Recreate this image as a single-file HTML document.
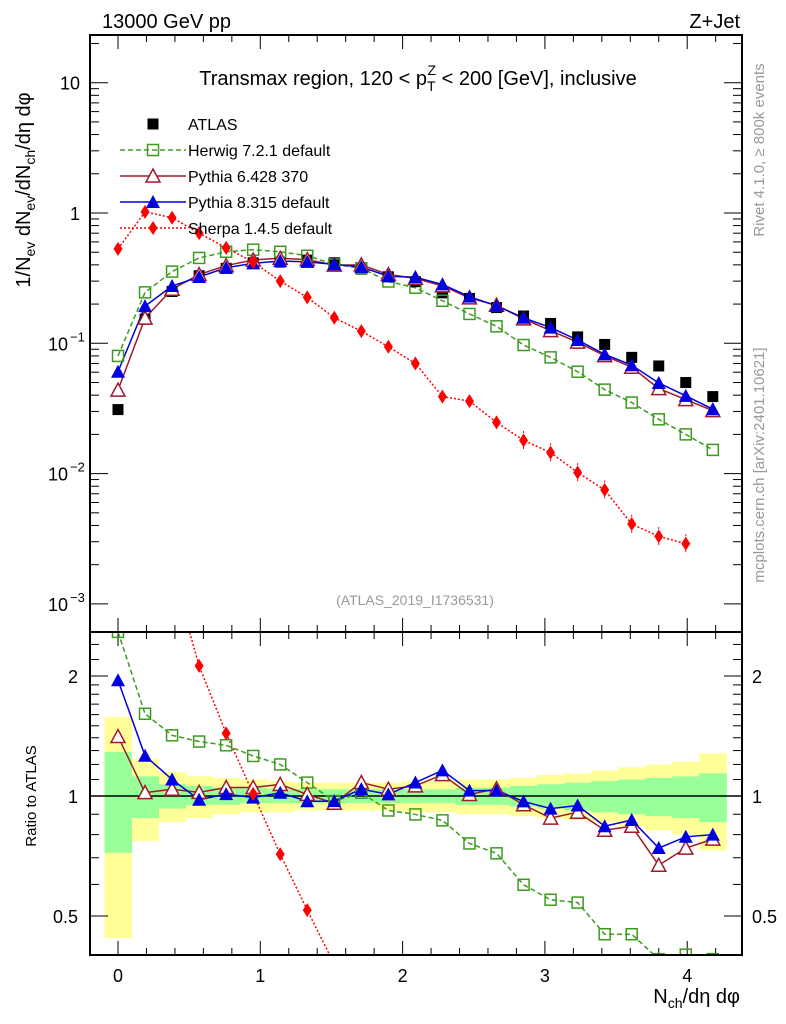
<!DOCTYPE html>
<html><head><meta charset="utf-8"><style>
html,body{margin:0;padding:0;background:#fff;width:786px;height:1024px;overflow:hidden;}
svg{display:block;font-family:"Liberation Sans",sans-serif;overflow:hidden;}
</style></head><body>
<svg id="chart" width="786" height="1024" viewBox="0 0 786 1024" xmlns="http://www.w3.org/2000/svg">
<defs>
<clipPath id="clipMain"><rect x="90" y="35" width="652" height="597"/></clipPath>
<clipPath id="clipRatio"><rect x="90" y="632" width="652" height="323"/></clipPath>
</defs>
<g id="bands" clip-path="url(#clipRatio)"></g>
<g id="grid"></g>
<g id="series-main" clip-path="url(#clipMain)"></g>
<g id="series-ratio" clip-path="url(#clipRatio)"></g>
<rect x="90" y="35" width="652" height="597" fill="none" stroke="#000" stroke-width="2"/>
<rect x="90" y="632" width="652" height="323" fill="none" stroke="#000" stroke-width="2"/>
<text x="102" y="28" font-size="20">13000 GeV pp</text>
<text x="740" y="28" font-size="20" text-anchor="end">Z+Jet</text>
<text x="418" y="85" font-size="20" text-anchor="middle">Transmax region, 120 &lt; p<tspan font-size="14" dy="6">T</tspan><tspan font-size="14" dx="-8" dy="-16">Z</tspan><tspan dy="10"> &lt; 200 [GeV], inclusive</tspan></text>
<text x="415" y="605" font-size="14" fill="#999" text-anchor="middle">(ATLAS_2019_I1736531)</text>
<text transform="translate(764,150) rotate(-90)" font-size="15" fill="#999" text-anchor="middle">Rivet 4.1.0, ≥ 800k events</text>
<text transform="translate(764,465) rotate(-90)" font-size="15" fill="#999" text-anchor="middle">mcplots.cern.ch [arXiv:2401.10621]</text>
<text transform="translate(30,190) rotate(-90)" font-size="20" text-anchor="middle">1/N<tspan font-size="14" dy="5">ev</tspan><tspan dy="-5"> dN</tspan><tspan font-size="14" dy="5">ev</tspan><tspan dy="-5">/dN</tspan><tspan font-size="14" dy="5">ch</tspan><tspan dy="-5">/dη dφ</tspan></text>
<text transform="translate(36,796) rotate(-90)" font-size="15" text-anchor="middle">Ratio to ATLAS</text>
<text x="740" y="1003" font-size="20" text-anchor="end">N<tspan font-size="14" dy="5">ch</tspan><tspan dy="-5">/dη dφ</tspan></text>
<g id="legend"></g>
</svg>
<script>
const xs = [0,0.19,0.38,0.57,0.76,0.95,1.14,1.33,1.52,1.71,1.90,2.09,2.28,2.47,2.66,2.85,3.04,3.23,3.42,3.61,3.80,3.99,4.18];
const atlas = [0.031,0.153,0.25,0.33,0.376,0.415,0.42,0.435,0.415,0.37,0.324,0.297,0.244,0.221,0.188,0.162,0.142,0.112,0.098,0.078,0.067,0.050,0.039];
const herwig = [0.080,0.246,0.355,0.452,0.504,0.523,0.504,0.470,0.403,0.377,0.298,0.267,0.212,0.168,0.135,0.097,0.078,0.0605,0.0441,0.0351,0.0261,0.020,0.0152];
const pythia6 = [0.0437,0.156,0.26,0.337,0.395,0.436,0.449,0.439,0.398,0.40,0.337,0.315,0.276,0.223,0.196,0.154,0.125,0.102,0.0804,0.0655,0.0449,0.037,0.0304];
const pythia8 = [0.0605,0.193,0.275,0.323,0.380,0.411,0.428,0.422,0.403,0.385,0.327,0.321,0.283,0.228,0.194,0.157,0.132,0.106,0.0823,0.0679,0.0496,0.0395,0.0312];
const sherpa = [0.53,1.02,0.92,0.70,0.54,0.42,0.30,0.225,0.157,0.124,0.094,0.070,0.039,0.036,0.0247,0.018,0.0145,0.0102,0.0075,0.0041,0.0033,0.0029];
const yellowUp = [1.58,1.24,1.15,1.12,1.11,1.10,1.09,1.08,1.08,1.08,1.08,1.09,1.09,1.10,1.10,1.11,1.13,1.14,1.16,1.18,1.20,1.22,1.28];
const yellowDn = [0.44,0.77,0.86,0.88,0.90,0.91,0.91,0.92,0.92,0.92,0.92,0.91,0.91,0.90,0.90,0.89,0.88,0.87,0.86,0.84,0.82,0.80,0.73];
const greenUp = [1.29,1.12,1.07,1.06,1.05,1.05,1.04,1.04,1.04,1.04,1.04,1.04,1.04,1.05,1.05,1.06,1.07,1.08,1.09,1.10,1.11,1.12,1.14];
const greenDn = [0.72,0.88,0.93,0.95,0.95,0.96,0.96,0.96,0.96,0.96,0.96,0.96,0.96,0.95,0.95,0.94,0.93,0.92,0.91,0.90,0.89,0.88,0.86];
const xTicks = [0,1,2,3,4];
const mainTicks = [10,1,0.1,0.01,0.001];
const mainTickLabels = ["10","1","10^-1","10^-2","10^-3"];
const ratioTicks = [2,1,0.5];
const ratioTickLabels = ["2","1","0.5"];

const NS="http://www.w3.org/2000/svg";
const X = v => 118 + v*142.3;
const Ym = v => 213 - 130.3*Math.log10(v);
const Yr = v => 796 - 398.6*Math.log10(v);
function mk(tag, attrs, parent){const e=document.createElementNS(NS,tag);for(const k in attrs)e.setAttribute(k,attrs[k]);parent.appendChild(e);return e;}
const grid=document.getElementById('grid');
const bands=document.getElementById('bands');
const gm=document.getElementById('series-main');
const gr=document.getElementById('series-ratio');
const leg=document.getElementById('legend');
const hw=13.5;

for(let i=0;i<xs.length;i++){
  let r=mk('rect',{x:X(xs[i])-hw,y:Yr(yellowUp[i]),width:2*hw+0.5,height:Yr(yellowDn[i])-Yr(yellowUp[i]),fill:'#ffff99'},bands);
  
  
}
for(let i=0;i<xs.length;i++){
  let r=mk('rect',{x:X(xs[i])-hw,y:Yr(greenUp[i]),width:2*hw+0.5,height:Yr(greenDn[i])-Yr(greenUp[i]),fill:'#99ff99'},bands);
  
  
}
let ref=mk('line',{x1:90,x2:742,y1:Yr(1),y2:Yr(1),stroke:'#000','stroke-width':1.5},grid);



for(let v=0;v<=4.21;v+=0.2){
  const major=Math.abs(v-Math.round(v))<1e-6;
  const L=major?14:7;
  for(const [yb,dir] of [[632,-1],[35,1],[955,-1],[632,1]]){
    mk('line',{x1:X(v),x2:X(v),y1:yb,y2:yb+dir*L,stroke:'#000','stroke-width':1},grid);
  }
}
for(let i=0;i<xTicks.length;i++){
  let t=mk('text',{x:X(xTicks[i]),y:982,'font-size':18,'text-anchor':'middle'},grid);
  t.textContent=xTicks[i];
  
  
}
for(let d=-3;d<=1;d++){
  for(let m=1;m<10;m++){
    const v=m*Math.pow(10,d); const y=Ym(v);
    if(y<35||y>632) continue;
    const L=m==1?18:9;
    mk('line',{x1:90,x2:90+L,y1:y,y2:y,stroke:'#000'},grid);
    mk('line',{x1:742,x2:742-L,y1:y,y2:y,stroke:'#000'},grid);
  }
}
for(let i=0;i<mainTicks.length;i++){
  const y=Ym(mainTicks[i]);
  const lab=mainTickLabels[i];
  let t=mk('text',{x:80,y:y+7,'font-size':18,'text-anchor':'end'},grid);
  
  
  if(lab.includes('^')){
    const [b,e]=lab.split('^');
    t.setAttribute('x',68);
    t.textContent=b;
    let s=mk('text',{x:70,y:y-2,'font-size':13},grid);
    s.textContent=e.replace('-','−');
    
    
  } else t.textContent=lab;
}
for(const v of [0.4,0.5,0.6,0.7,0.8,0.9,1,1.1,1.2,1.3,1.4,1.5,1.6,1.7,1.8,1.9,2,2.2,2.4]){
  const y=Yr(v); if(y<632||y>955) continue;
  const L=(v==0.5||v==1||v==2)?18:9;
  mk('line',{x1:90,x2:90+L,y1:y,y2:y,stroke:'#000'},grid);
  mk('line',{x1:742,x2:742-L,y1:y,y2:y,stroke:'#000'},grid);
}
for(let i=0;i<ratioTicks.length;i++){
  const y=Yr(ratioTicks[i]);
  let t=mk('text',{x:78,y:y+7,'font-size':18,'text-anchor':'end'},grid);
  t.textContent=ratioTickLabels[i];
  
  
  let t2=mk('text',{x:752,y:y+7,'font-size':18},grid);
  t2.textContent=ratioTickLabels[i];
  
  
}

function marker(type,color,cx,cy,parent){
  let e;
  if(type=='sq') e=mk('rect',{x:cx-5.5,y:cy-5.5,width:11,height:11,fill:color},parent);
  else if(type=='osq') e=mk('rect',{x:cx-5.5,y:cy-5.5,width:11,height:11,fill:'none',stroke:color,'stroke-width':1.5},parent);
  else if(type=='otri') e=mk('polygon',{points:`${cx},${cy-7} ${cx-7},${cy+6} ${cx+7},${cy+6}`,fill:'#fff',stroke:color,'stroke-width':1.5},parent);
  else if(type=='tri') e=mk('polygon',{points:`${cx},${cy-7} ${cx-7},${cy+6} ${cx+7},${cy+6}`,fill:color},parent);
  else e=mk('polygon',{points:`${cx},${cy-7} ${cx-4.5},${cy} ${cx},${cy+7} ${cx+4.5},${cy}`,fill:color},parent);
  return e;
}
const series=[
  {name:'herwig',vals:herwig,color:'#3c9b1e',type:'osq',dash:'5,3',label:'Herwig 7.2.1 default'},
  {name:'pythia6',vals:pythia6,color:'#a0182a',type:'otri',dash:'',label:'Pythia 6.428 370'},
  {name:'pythia8',vals:pythia8,color:'#0000e0',type:'tri',dash:'',label:'Pythia 8.315 default'},
  {name:'sherpa',vals:sherpa,color:'#ff0000',type:'dia',dash:'2,2',label:'Sherpa 1.4.5 default'}
];
for(const s of series){
  const ptsM=s.vals.map((v,i)=>X(xs[i])+','+Ym(v)).join(' ');
  const ptsR=s.vals.map((v,i)=>X(xs[i])+','+Yr(v/atlas[i])).join(' ');
  let l=mk('polyline',{points:ptsM,fill:'none',stroke:s.color,'stroke-width':1.5,'stroke-dasharray':s.dash},gm);
  
  
  let l2=mk('polyline',{points:ptsR,fill:'none',stroke:s.color,'stroke-width':1.5,'stroke-dasharray':s.dash},gr);
  
  
}
for(let i=0;i<atlas.length;i++){
  let m=marker('sq','#000',X(xs[i]),Ym(atlas[i]),gm);
  
  
}
for(const s of series){
  s.vals.forEach((v,i)=>{
    if(s.name=='sherpa' && i>=15){
      let eb=mk('line',{x1:X(xs[i]),x2:X(xs[i]),y1:Ym(v*1.18),y2:Ym(v/1.18),stroke:s.color,'stroke-dasharray':'2,2'},gm);
      
      
    }
    let m=marker(s.type,s.color,X(xs[i]),Ym(v),gm);
    
    
    let m2=marker(s.type,s.color,X(xs[i]),Yr(v/atlas[i]),gr);
    
    
  });
}
const legRows=[{label:'ATLAS',type:'sq',color:'#000',dash:null}].concat(series);
legRows.forEach((r,i)=>{
  const y=124+i*26;
  const g=mk('g',{},leg);
  
  
  if(r.dash!==null) mk('line',{x1:120,x2:186,y1:y,y2:y,stroke:r.color,'stroke-width':1.5,'stroke-dasharray':r.dash},g);
  marker(r.type,r.color,153,y,g);
  const t=mk('text',{x:188,y:y+6,'font-size':16},g);
  t.textContent=r.label;
});
</script>
</body></html>
